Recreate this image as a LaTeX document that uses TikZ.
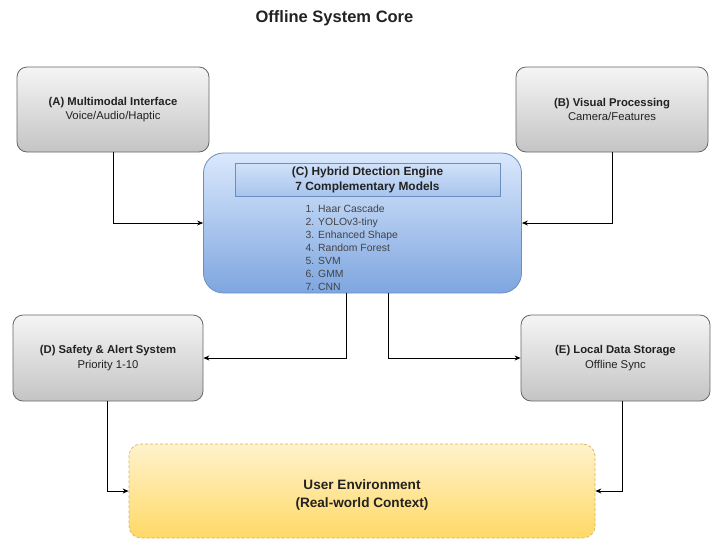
\documentclass[tikz,border=0pt]{standalone}
\usepackage{fontspec}
\setmainfont{Liberation Sans}
\usetikzlibrary{arrows.meta}
\definecolor{greyS}{HTML}{666666}
\definecolor{greyT}{HTML}{F5F5F5}
\definecolor{greyB}{HTML}{C4C4C4}
\definecolor{blueS}{HTML}{6C8EBF}
\definecolor{blueT}{HTML}{DAE8FC}
\definecolor{blueB}{HTML}{7EA6E0}
\definecolor{yelS}{HTML}{D6B656}
\definecolor{yelT}{HTML}{FFF2CC}
\definecolor{yelB}{HTML}{FFD966}
\definecolor{txt}{HTML}{222222}
\tikzset{
  greybox/.style={draw=greyS, line width=0.8pt, rounded corners=10pt, top color=greyT, bottom color=greyB,
    align=center, text=txt, font=\fontsize{11.3}{14.5}\selectfont, inner sep=2pt},
  conn/.style={draw=black, line width=0.8pt, -{Stealth[length=6pt,width=5pt]}},
}
\begin{document}
\begin{tikzpicture}[x=1pt,y=-1pt]
\useasboundingbox (0,0) rectangle (711,539);
\node[font=\bfseries\fontsize{16.5}{18}\selectfont, text=txt] (title) at (334.5,18) {Offline System Core};

\node[greybox, minimum width=192pt, minimum height=85pt] (A) at (113,109.5) {\textbf{(A) Multimodal Interface}\\Voice/Audio/Haptic};
\node[greybox, minimum width=192pt, minimum height=85pt] (B) at (612,109.5) {\textbf{(B) Visual Processing}\\Camera/Features};
\node[greybox, minimum width=190pt, minimum height=86pt] (D) at (108,358) {\textbf{(D) Safety \& Alert System}\\Priority 1-10};
\node[greybox, minimum width=189pt, minimum height=86pt] (E) at (615.5,358) {\textbf{(E) Local Data Storage}\\Offline Sync};

\node[draw=blueS, line width=0.8pt, rounded corners=20pt, top color=blueT, bottom color=blueB,
  minimum width=318pt, minimum height=140pt] (C) at (362.5,223) {};
\node[draw=blueS, line width=0.7pt, top color=blueT!90!blueB, bottom color=blueT!45!blueB,
  minimum width=265pt, minimum height=33pt, align=center, text=txt,
  font=\bfseries\fontsize{11.9}{14.5}\selectfont, inner sep=1pt] (Ct) at (367.5,180)
  {(C) Hybrid Dtection Engine\\7 Complementary Models};
\node[anchor=north west, align=left, text=txt!85!white, font=\fontsize{10.4}{13}\selectfont, inner sep=0pt] (Cl) at (305.5,205)
  {1. Haar Cascade\\2. YOLOv3-tiny\\3. Enhanced Shape\\4. Random Forest\\5. SVM\\6. GMM\\7. CNN};

\node[draw=yelS, dashed, dash pattern=on 3pt off 2pt, line width=0.7pt, rounded corners=12pt, top color=yelT, bottom color=yelB,
  minimum width=466pt, minimum height=94pt, text=txt] (U) at (362,491) {};
\node[align=center, text=txt, font=\bfseries\fontsize{13.6}{18}\selectfont] (Ut) at (362,494.5) {User Environment\\(Real-world Context)};

\draw[conn] (A.south) |- (C.west);
\draw[conn] (B.south) |- (C.east);
\draw[conn] ([xshift=-16.5pt]C.south) |- (D.east);
\draw[conn] ([xshift=25.5pt]C.south) |- (E.west);
\draw[conn] ([xshift=-1pt]D.south) |- (U.west);
\draw[conn] ([xshift=6.5pt]E.south) |- (U.east);
\end{tikzpicture}
\end{document}
